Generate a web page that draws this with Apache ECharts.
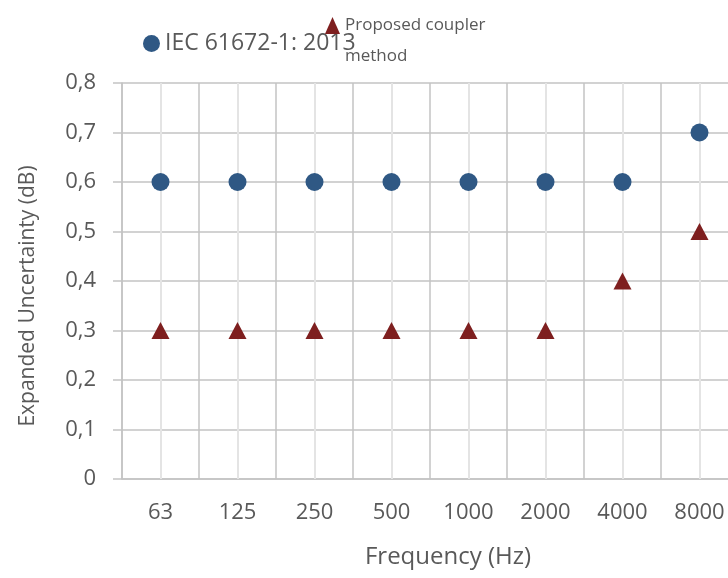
<!DOCTYPE html>
<html>
<head>
<meta charset="utf-8">
<script src="https://cdn.jsdelivr.net/npm/echarts@6/dist/echarts.min.js"></script>
<style>
  html, body { margin: 0; padding: 0; background: #fff; }
  #main { width: 728px; height: 578px; }
</style>
</head>
<body>
<div id="main"></div>
<script>
// frequency bands
var categories = ['63', '125', '250', '500', '1000', '2000', '4000', '8000'];
// expanded uncertainty (dB)
var iecValues = [0.6, 0.6, 0.6, 0.6, 0.6, 0.6, 0.6, 0.7];
var couplerValues = [0.3, 0.3, 0.3, 0.3, 0.3, 0.3, 0.4, 0.5];
var yTicks = [0, 0.1, 0.2, 0.3, 0.4, 0.5, 0.6, 0.7, 0.8];

var font = '"Open Sans", "Liberation Sans", sans-serif';
var textColor = '#595959';
var gridColor = '#c3c3c3';

var chart = echarts.init(document.getElementById('main'));

var option = {
    backgroundColor: '#fff',
    animation: false,
    textStyle: { fontFamily: font, color: textColor },
    legend: [
        {
            data: [{ name: 'IEC 61672-1: 2013', icon: 'circle' }],
            left: 143, top: 32, padding: 0,
            itemWidth: 17, itemHeight: 17, itemGap: 0,
            textStyle: { fontFamily: font, fontSize: 23, color: textColor }
        },
        {
            data: [{ name: 'Proposed coupler method', icon: 'triangle' }],
            left: 325, top: -21, padding: 0,
            itemWidth: 15, itemHeight: 17,
            // blank first line keeps the icon level with "Proposed coupler"
            formatter: function () { return ' \nProposed coupler\nmethod'; },
            textStyle: { fontFamily: font, fontSize: 17, color: textColor, lineHeight: 31 }
        }
    ],
    grid: { left: 122, width: 616, top: 83, bottom: 99, containLabel: false, outerBoundsMode: 'none' },
    xAxis: {
        type: 'category',
        data: categories,
        boundaryGap: true,
        name: 'Frequency (Hz)',
        nameLocation: 'middle',
        nameGap: 66,
        nameTextStyle: { fontFamily: font, fontSize: 24, color: textColor, padding: [0, 0, 0, 36] },
        axisLine: { show: true, lineStyle: { color: gridColor, width: 1.5 } },
        axisTick: { show: false },
        axisLabel: { fontFamily: font, fontSize: 22, color: textColor, margin: 23 },
        splitLine: { show: true, lineStyle: { color: gridColor, width: 1.5 } }
    },
    yAxis: {
        type: 'value',
        min: yTicks[0],
        max: yTicks[yTicks.length - 1],
        interval: 0.1,
        name: 'Expanded Uncertainty (dB)',
        nameLocation: 'middle',
        nameGap: 83,
        nameTextStyle: { fontFamily: font, fontSize: 21, color: textColor, padding: [0, 30, 0, 0] },
        axisLine: { show: true, lineStyle: { color: gridColor, width: 1.5 } },
        axisTick: { show: true, length: 9, lineStyle: { color: gridColor, width: 1.5 } },
        axisLabel: {
            fontFamily: font, fontSize: 22, color: textColor, margin: 26,
            formatter: function (v) { return String(+v.toFixed(1)).replace('.', ','); }
        },
        splitLine: { show: true, lineStyle: { color: gridColor, width: 1.5 } }
    },
    series: [
        {
            // light lines through category centres
            name: 'centre',
            type: 'scatter',
            data: [],
            z: 1,
            markLine: {
                z: 1,
                silent: true,
                animation: false,
                symbol: ['none', 'none'],
                label: { show: false },
                lineStyle: { color: '#e4e4e4', width: 2, type: 'solid' },
                data: categories.map(function (c) { return { xAxis: c }; })
            }
        },
        {
            name: 'IEC 61672-1: 2013',
            type: 'scatter',
            symbol: 'circle',
            symbolSize: 18,
            z: 3,
            itemStyle: { color: '#2f5884', opacity: 1 },
            data: iecValues
        },
        {
            name: 'Proposed coupler method',
            type: 'scatter',
            symbol: 'triangle',
            symbolSize: [18, 17],
            z: 3,
            itemStyle: { color: '#7e1f1f', opacity: 1 },
            data: couplerValues
        }
    ]
};

chart.setOption(option);
</script>
</body>
</html>
